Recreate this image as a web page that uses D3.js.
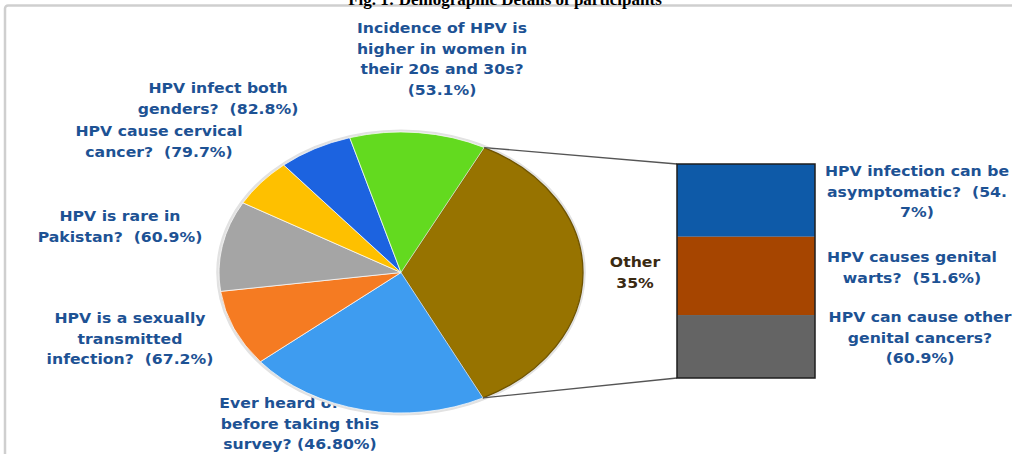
<!DOCTYPE html>
<html>
<head>
<meta charset="utf-8">
<script src="https://cdn.jsdelivr.net/npm/d3@7"></script>
<style>
  body { margin: 0; background: #fff; }
  svg { display: block; }
  .lbl { font-family: "DejaVu Sans", Verdana, sans-serif; font-weight: bold; font-size: 14px; white-space: pre; }
</style>
</head>
<body>
<svg id="chart" width="1012" height="454"></svg>
<script>
// pie slices (share of the circle, in %), clockwise after "Other"
var pieKeys = ['heard', 'sexual', 'rare', 'cervical', 'genders', 'incidence'];
var pieShares = [21.5, 8.8, 10.4, 5.6, 6.6, 12.1];
var pieLines = [
  ['Ever heard of HPV', 'before taking this', 'survey? (46.80%)'],
  ['HPV is a sexually', 'transmitted', 'infection?  (67.2%)'],
  ['HPV is rare in', 'Pakistan?  (60.9%)'],
  ['HPV cause cervical', 'cancer?  (79.7%)'],
  ['HPV infect both', 'genders?  (82.8%)'],
  ['Incidence of HPV is', 'higher in women in', 'their 20s and 30s?', '(53.1%)']
];
var pieColors = ['#3e9cf0', '#f57b22', '#a5a5a5', '#fec000', '#1c63e0', '#63da1f'];

// the "Other" slice split into the bar on the right (share of the circle, in %)
var barKeys = ['asymptomatic', 'warts', 'cancers'];
var barShares = [11.9, 12.8, 10.3];
var barLines = [
  ['HPV infection can be', 'asymptomatic?  (54.', '7%)'],
  ['HPV causes genital', 'warts?  (51.6%)'],
  ['HPV can cause other', 'genital cancers?', '(60.9%)']
];
var barColors = ['#0e5aa8', '#a64500', '#646464'];

var otherColor = '#977300';
var labelColor = '#1d5294';

// label anchors: centre x, centre of first line
var labelPos = {
  heard: [300, 403], sexual: [130, 318], rare: [120, 216], cervical: [159, 131],
  genders: [218, 88], incidence: [442, 28],
  asymptomatic: [917, 171], warts: [912, 257], cancers: [920, 317]
};

var svg = d3.select('#chart');

// frame of the original figure
svg.append('rect')
  .attr('x', 5).attr('y', 5.5)
  .attr('width', 1100).attr('height', 600)
  .attr('rx', 3)
  .attr('fill', 'none')
  .attr('stroke', '#cfcfcf')
  .attr('stroke-width', 2.5);

// caption, cut off at the top as in the source
svg.append('text')
  .attr('x', 505).attr('y', 5)
  .attr('text-anchor', 'middle')
  .style('font-family', '"Liberation Serif", "Times New Roman", serif')
  .style('font-weight', 'bold')
  .style('font-size', '17px')
  .text('Fig. 1: Demographic Details of participants');

function drawLabel(key, lines, color) {
  var p = labelPos[key];
  var g = svg.append('g')
    .attr('transform', 'translate(' + p[0] + ',' + p[1] + ') scale(1.12,1)');
  g.selectAll('text')
    .data(lines)
    .join('text')
    .attr('class', 'lbl')
    .attr('x', 0)
    .attr('y', function(d, i) { return i * 20.6; })
    .attr('dy', '0.36em')
    .attr('text-anchor', 'middle')
    .attr('fill', color)
    .text(function(d) { return d; });
}

pieKeys.forEach(function(k, i) { drawLabel(k, pieLines[i], labelColor); });
barKeys.forEach(function(k, i) { drawLabel(k, barLines[i], labelColor); });

// pie
var otherShare = d3.sum(barShares);
var pieData = [{ key: 'other', value: otherShare, color: otherColor }].concat(
  pieKeys.map(function(k, i) { return { key: k, value: pieShares[i], color: pieColors[i] }; })
);

var cx = 401, cy = 272.5, ry = 140.5, rx = 182;
var startA = 27.2 * Math.PI / 180;

var pie = d3.pie()
  .value(function(d) { return d.value; })
  .sort(null)
  .startAngle(startA)
  .endAngle(startA + 2 * Math.PI);

var arc = d3.arc().innerRadius(0).outerRadius(ry);
var arcs = pie(pieData);

var pg = svg.append('g')
  .attr('transform', 'translate(' + cx + ',' + cy + ') scale(' + (rx / ry) + ',1)');

pg.append('circle')
  .attr('r', ry + 1)
  .attr('fill', 'none')
  .attr('stroke', '#e2e2e2')
  .attr('stroke-width', 3)
  .attr('vector-effect', 'non-scaling-stroke');

pg.selectAll('path.slice')
  .data(arcs)
  .join('path')
  .attr('class', 'slice')
  .attr('d', arc)
  .attr('fill', function(d) { return d.data.color; })
  .attr('stroke', function(d) { return d.data.key === 'other' ? '#6f5400' : '#ffffff'; })
  .attr('stroke-width', function(d) { return d.data.key === 'other' ? 1.3 : 0.7; })
  .attr('vector-effect', 'non-scaling-stroke');

// "Other" label beside the slice
var otherLbl = svg.append('g').attr('transform', 'translate(635,262) scale(1.12,1)');
otherLbl.selectAll('text')
  .data(['Other', otherShare.toFixed(0) + '%'])
  .join('text')
  .attr('class', 'lbl')
  .attr('y', function(d, i) { return i * 20.5; })
  .attr('dy', '0.36em')
  .attr('text-anchor', 'middle')
  .attr('fill', '#3a2a12')
  .text(function(d) { return d; });

// bar of the "Other" slice
var barX = 677, barW = 138;
var y = d3.scaleLinear().domain([0, otherShare]).range([164, 378]);
var acc = 0;
var barData = barShares.map(function(v, i) {
  var d = { y0: acc, y1: acc + v, color: barColors[i] };
  acc += v;
  return d;
});

// connector lines from the slice edge to the bar
var other = arcs[0];
function edgePt(a) { return [cx + rx * Math.sin(a), cy - ry * Math.cos(a)]; }
var pTop = edgePt(other.startAngle), pBot = edgePt(other.endAngle);
svg.append('line')
  .attr('x1', pTop[0]).attr('y1', pTop[1])
  .attr('x2', barX).attr('y2', y(0))
  .attr('stroke', '#555').attr('stroke-width', 1.3);
svg.append('line')
  .attr('x1', pBot[0]).attr('y1', pBot[1])
  .attr('x2', barX).attr('y2', y(otherShare))
  .attr('stroke', '#555').attr('stroke-width', 1.3);

svg.selectAll('rect.seg')
  .data(barData)
  .join('rect')
  .attr('class', 'seg')
  .attr('x', barX)
  .attr('y', function(d) { return y(d.y0); })
  .attr('width', barW)
  .attr('height', function(d) { return y(d.y1) - y(d.y0); })
  .attr('fill', function(d) { return d.color; });

svg.append('rect')
  .attr('x', barX).attr('y', y(0))
  .attr('width', barW).attr('height', y(otherShare) - y(0))
  .attr('fill', 'none')
  .attr('stroke', '#1e1e1e')
  .attr('stroke-width', 1.5);
</script>
</body>
</html>
